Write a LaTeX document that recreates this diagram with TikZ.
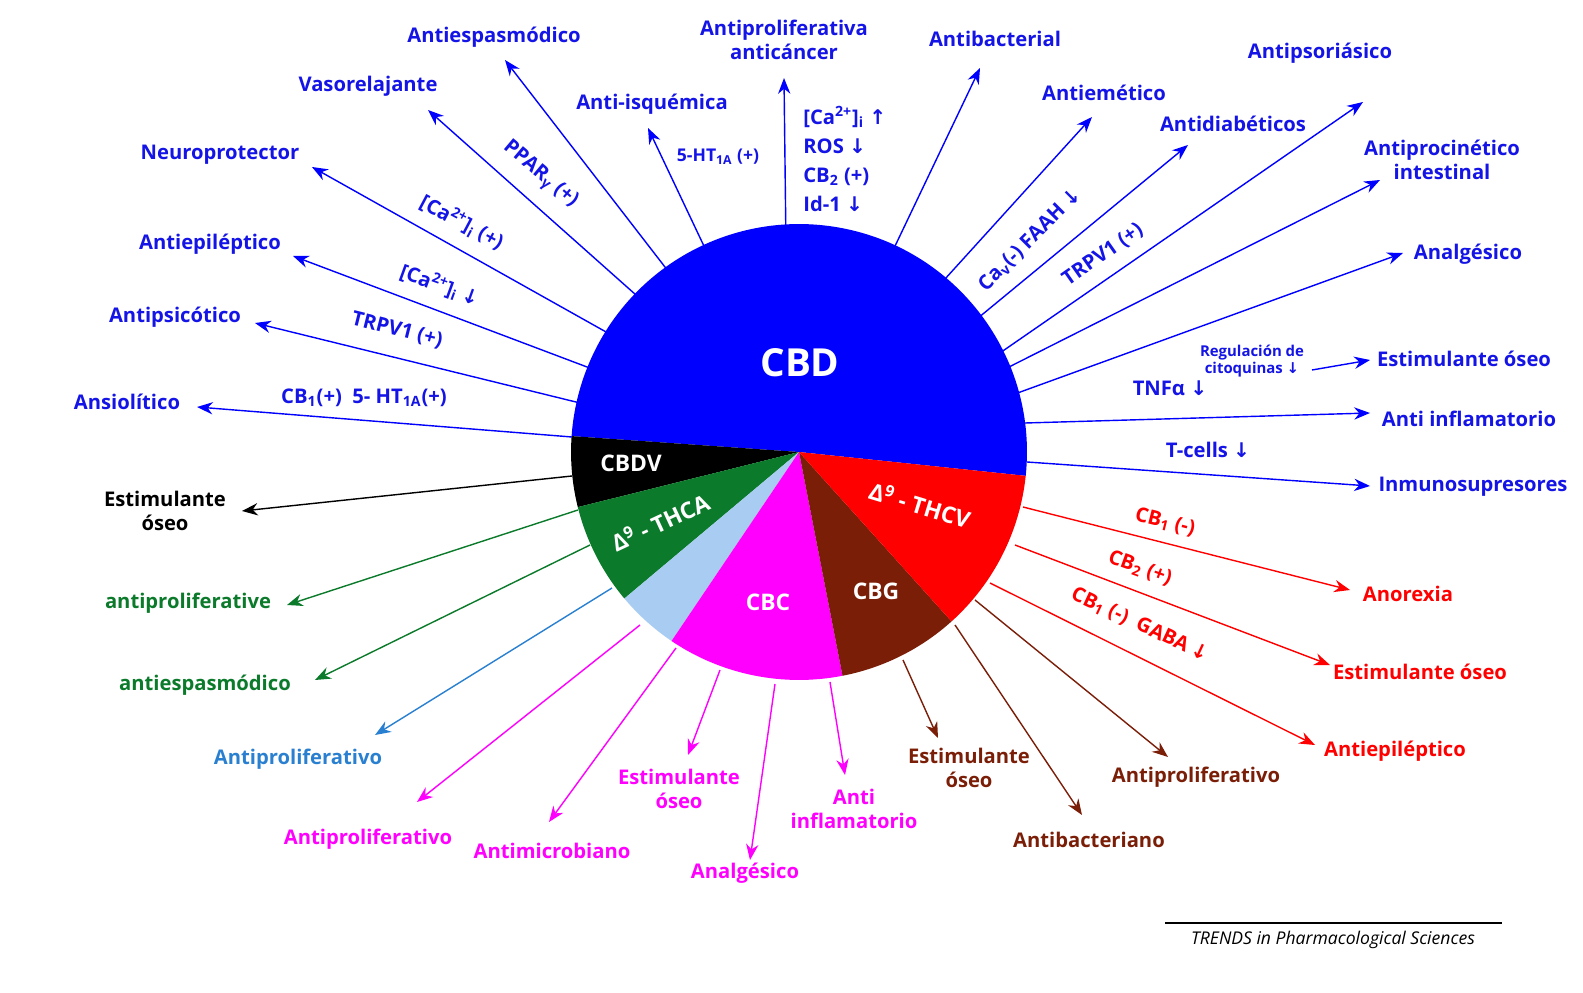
\documentclass[tikz,border=0pt]{standalone}
\usepackage{fontspec}
\setmainfont{Open Sans}
\newfontfamily\dvfont{DejaVu Sans}
\newcommand\myda{{\dvfont\symbol{"2193}}}
\newcommand\myua{{\dvfont\symbol{"2191}}}
\usetikzlibrary{arrows.meta}
\definecolor{cB}{HTML}{0000FF}
\definecolor{tB}{HTML}{1414E6}
\definecolor{cR}{HTML}{FF0000}
\definecolor{cG}{HTML}{0B7A2A}
\definecolor{cL}{HTML}{A9CDF2}
\definecolor{cLt}{HTML}{2A80D0}
\definecolor{cM}{HTML}{FF00FF}
\definecolor{cN}{HTML}{7A1E08}
\begin{document}
\begin{tikzpicture}[x=0.02cm,y=-0.02cm,
 lab/.style={font=\bfseries\fontsize{11.5}{14}\selectfont,align=center,inner sep=0pt},
 sm/.style={font=\bfseries\fontsize{10}{12}\selectfont,align=center,inner sep=0pt},
 arr/.style={line width=0.8pt,-{Stealth[length=9pt,width=7pt]}},
 sec/.style={font=\bfseries\fontsize{13}{15}\selectfont,text=white,inner sep=0pt}]
\useasboundingbox (0,0) rectangle (1583,993);
\coordinate (C) at (799,452);
\def\R{4.56cm}
\fill[cB] (C) -- ++(-6:\R) arc[start angle=-6,end angle=176,radius=\R] -- cycle;
\fill[black] (C) -- ++(176:\R) arc[start angle=176,end angle=194,radius=\R] -- cycle;
\fill[cG] (C) -- ++(194:\R) arc[start angle=194,end angle=220,radius=\R] -- cycle;
\fill[cL] (C) -- ++(220:\R) arc[start angle=220,end angle=236,radius=\R] -- cycle;
\fill[cM] (C) -- ++(236:\R) arc[start angle=236,end angle=281,radius=\R] -- cycle;
\fill[cN] (C) -- ++(281:\R) arc[start angle=281,end angle=312,radius=\R] -- cycle;
\fill[cR] (C) -- ++(312:\R) arc[start angle=312,end angle=354,radius=\R] -- cycle;
\node[sec,font=\bfseries\fontsize{22}{24}\selectfont] (tCBD) at (800,363) {CBD};
\node[sec] (tCBDV) at (631,463) {CBDV};
\node[sec,rotate=25] (tTHCA) at (660,522) {Δ\textsuperscript{9} - THCA};
\node[sec] (tCBC) at (768,602) {CBC};
\node[sec] (tCBG) at (876,591) {CBG};
\node[sec,rotate=-17] (tTHCV) at (920,505) {Δ\textsuperscript{9} - THCV};
\foreach \n/\sx/\sy/\ex/\ey in {1/572/437/197/407, 2/580/403/255/323, 3/595/370/293/256, 4/615/337/312/167, 5/645/303/428/110, 6/675/280/505/60, 7/712/263/648/128, 8/786/246/784/78, 9/886/265/980/68, 10/935/290/1092/117, 11/972/323/1188/145, 12/997/355/1363/102, 13/1003/370/1380/180, 14/1012/395/1403/253, 15/1312/370/1370/360, 16/1025/423/1370/413, 17/1027/462/1370/486}
 {\coordinate (bs\n) at (\sx,\sy); \coordinate (be\n) at (\ex,\ey); \draw[arr,cB] (bs\n) -- (be\n);}
\begin{scope}[every node/.style={lab,text=tB}]
\node (l1) at (127,402) {Ansiolítico};
\node (l2) at (175,317) {Antipsicótico};
\node (l3) at (210,244) {Antiepiléptico};
\node (l4) at (220,155) {Neuroprotector};
\node (l5) at (368,86) {Vasorelajante};
\node (l6) at (494,37) {Antiespasmódico};
\node (l7) at (652,104) {Anti-isquémica};
\node (l8) at (784,40) {Antiproliferativa\\anticáncer};
\node (l9) at (995,39) {Antibacterial};
\node (l10) at (1104,93) {Antiemético};
\node (l11) at (1233,124) {Antidiabéticos};
\node (l12) at (1320,53) {Antipsoriásico};
\node (l13) at (1442,160) {Antiprocinético\\intestinal};
\node (l14) at (1468,254) {Analgésico};
\node (l15) at (1464,359) {Estimulante óseo};
\node (l16) at (1469,419) {Anti inflamatorio};
\node (l17) at (1473,487) {Inmunosupresores};
\node (m1) at (364,398) {CB\textsubscript{1}(+)\ \ 5- HT\textsubscript{1A}(+)};
\node[rotate=-14] (m2) at (397,330) {TRPV1 (+)};
\node[rotate=-20] (m3) at (440,285) {[Ca\textsuperscript{2+}]\textsubscript{i} \myda};
\node[rotate=-28] (m4) at (462,222) {[Ca\textsuperscript{2+}]\textsubscript{i} (+)};
\node[rotate=-40] (m5) at (540,175) {PPAR\textsubscript{γ} (+)};
\node[sm] (m7) at (718,157) {5-HT\textsubscript{1A} (+)};
\node[anchor=north west,align=left,font=\bfseries\fontsize{11.5}{16.5}\selectfont] (m8) at (803,106) {[Ca\textsuperscript{2+}]\textsubscript{i} \myua\\ROS \myda\\CB\textsubscript{2} (+)\\Id-1 \myda};
\node[rotate=45] (m10) at (1030,240) {Ca\textsubscript{v}(-) FAAH \myda};
\node[rotate=35] (m11) at (1103,255) {TRPV1 (+)};
\node[font=\bfseries\fontsize{8.5}{10}\selectfont] (m15) at (1252,361) {Regulación de\\citoquinas \myda};
\node (m14) at (1170,388) {TNFα \myda};
\node (m17) at (1208,450) {T-cells \myda};
\end{scope}
\coordinate (ks) at (572,476); \coordinate (ke) at (242,511);
\draw[arr,black] (ks) -- (ke);
\node[lab] (lk) at (165,511) {Estimulante\\óseo};
\coordinate (gs1) at (578,510); \coordinate (ge1) at (287,605);
\coordinate (gs2) at (590,545); \coordinate (ge2) at (315,680);
\draw[arr,cG] (gs1) -- (ge1); \draw[arr,cG] (gs2) -- (ge2);
\node[lab,text=cG] (lg1) at (188,603) {antiproliferative};
\node[lab,text=cG] (lg2) at (205,685) {antiespasmódico};
\coordinate (ls) at (612,588); \coordinate (le) at (375,735);
\draw[arr,cLt] (ls) -- (le);
\node[lab,text=cLt] (ll) at (298,759) {Antiproliferativo};
\foreach \n/\sx/\sy/\ex/\ey in {1/640/625/417/802, 2/676/648/549/822, 3/720/670/688/755, 4/775/684/750/860, 5/830/682/845/775}
 {\coordinate (ms\n) at (\sx,\sy); \coordinate (me\n) at (\ex,\ey); \draw[arr,cM] (ms\n) -- (me\n);}
\begin{scope}[every node/.style={lab,text=cM}]
\node (lm1) at (368,839) {Antiproliferativo};
\node (lm2) at (552,851) {Antimicrobiano};
\node (lm3) at (679,789) {Estimulante\\óseo};
\node (lm4) at (745,873) {Analgésico};
\node (lm5) at (854,809) {Anti\\inflamatorio};
\end{scope}
\foreach \n/\sx/\sy/\ex/\ey in {1/903/660/938/738, 2/955/625/1082/815, 3/975/600/1168/757}
 {\coordinate (ns\n) at (\sx,\sy); \coordinate (ne\n) at (\ex,\ey); \draw[arr,cN] (ns\n) -- (ne\n);}
\begin{scope}[every node/.style={lab,text=cN}]
\node (ln1) at (969,768) {Estimulante\\óseo};
\node (ln2) at (1089,840) {Antibacteriano};
\node (ln3) at (1196,777) {Antiproliferativo};
\end{scope}
\foreach \n/\sx/\sy/\ex/\ey in {1/1023/507/1350/590, 2/1015/545/1330/665, 3/990/583/1315/745}
 {\coordinate (rs\n) at (\sx,\sy); \coordinate (re\n) at (\ex,\ey); \draw[arr,cR] (rs\n) -- (re\n);}
\begin{scope}[every node/.style={lab,text=cR}]
\node (lr1) at (1408,594) {Anorexia};
\node (lr2) at (1420,672) {Estimulante óseo};
\node (lr3) at (1395,751) {Antiepiléptico};
\node[rotate=-14] (mr1) at (1165,522) {CB\textsubscript{1} (-)};
\node[rotate=-20] (mr2) at (1140,568) {CB\textsubscript{2} (+)};
\node[rotate=-25] (mr3) at (1140,625) {CB\textsubscript{1} (-)\ \ GABA \myda};
\end{scope}
\coordinate (f1) at (1165,923); \coordinate (f2) at (1502,923);
\draw[line width=0.6pt] (f1) -- (f2);
\node[font=\itshape\fontsize{10}{12}\selectfont,inner sep=0pt] (ft) at (1333,940) {TRENDS in Pharmacological Sciences};
\end{tikzpicture}
\end{document}
